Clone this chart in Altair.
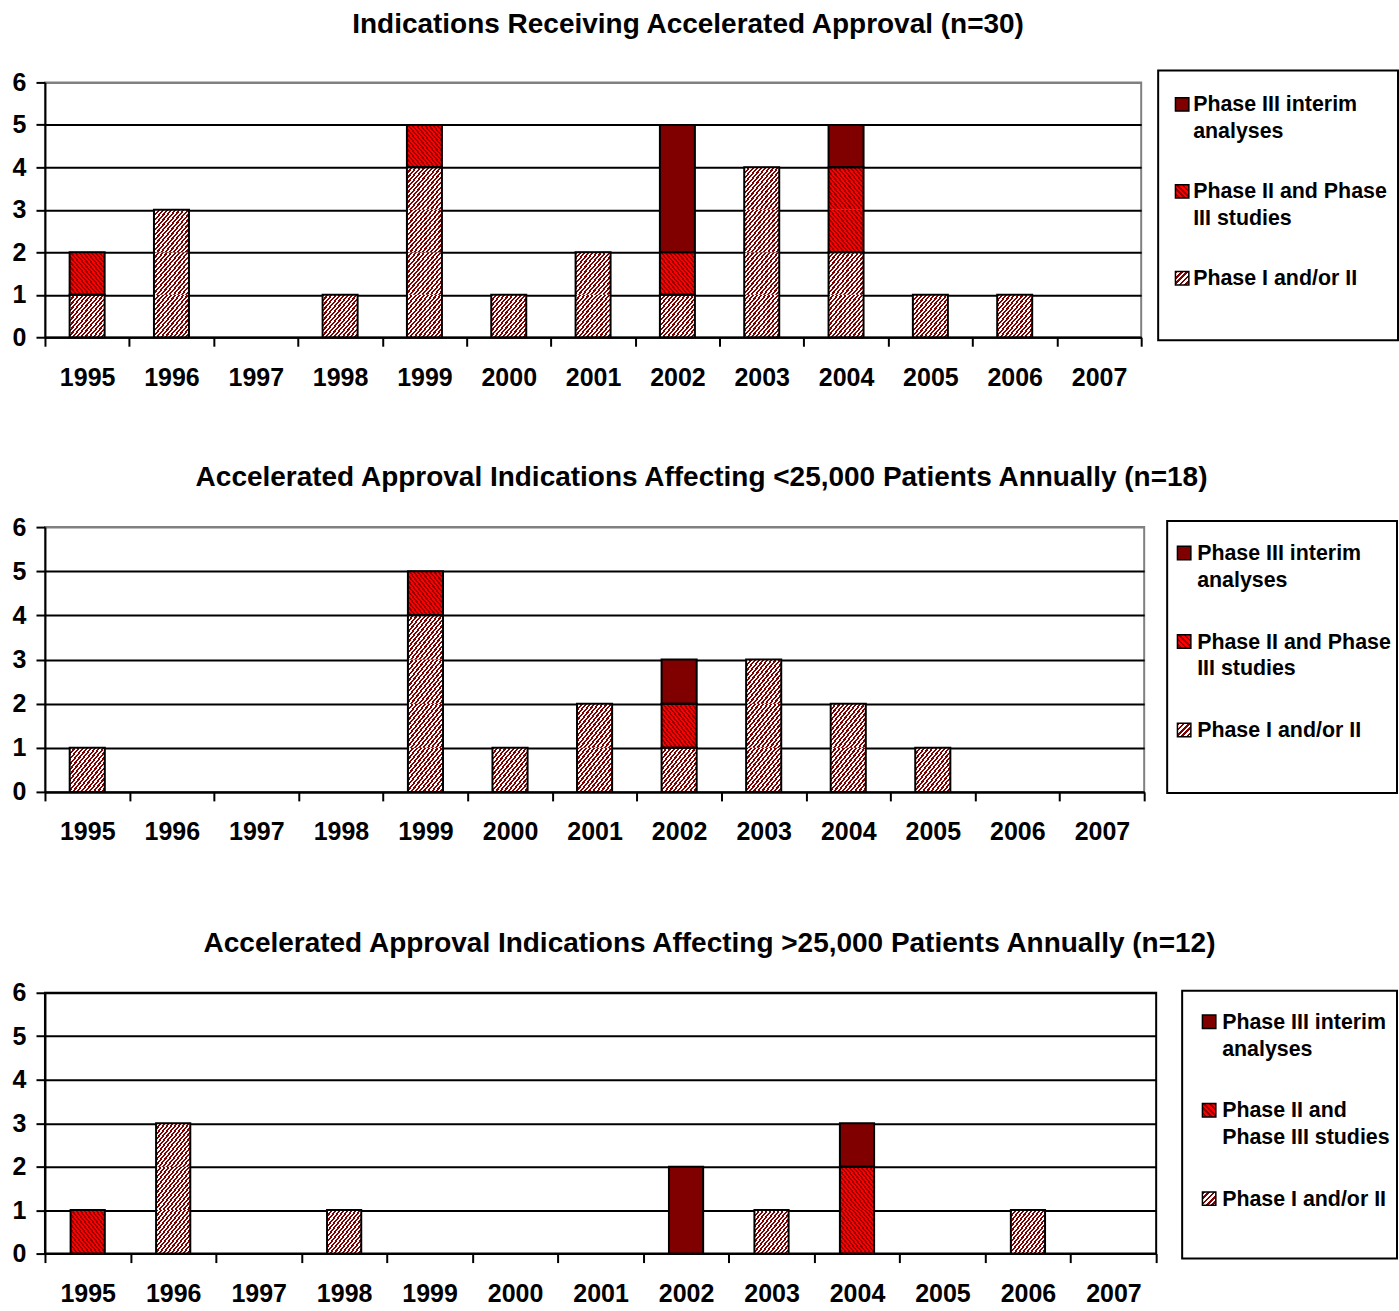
import altair as alt
import pandas as pd

FONT = "Liberation Sans, Arial, sans-serif"

YEARS = ["1995", "1996", "1997", "1998", "1999", "2000", "2001",
         "2002", "2003", "2004", "2005", "2006", "2007"]
Y_TICKS = [0, 1, 2, 3, 4, 5, 6]

TITLES = [
    "Indications Receiving Accelerated Approval (n=30)",
    "Accelerated Approval Indications Affecting <25,000 Patients Annually (n=18)",
    "Accelerated Approval Indications Affecting >25,000 Patients Annually (n=12)",
]

# Phase I and/or II, Phase II and Phase III studies, Phase III interim analyses
ALL_P1 = [1, 3, 0, 1, 4, 1, 2, 1, 4, 2, 1, 1, 0]
ALL_P2 = [1, 0, 0, 0, 1, 0, 0, 1, 0, 2, 0, 0, 0]
ALL_P3 = [0, 0, 0, 0, 0, 0, 0, 3, 0, 1, 0, 0, 0]

SMALL_P1 = [1, 0, 0, 0, 4, 1, 2, 1, 3, 2, 1, 0, 0]
SMALL_P2 = [0, 0, 0, 0, 1, 0, 0, 1, 0, 0, 0, 0, 0]
SMALL_P3 = [0, 0, 0, 0, 0, 0, 0, 1, 0, 0, 0, 0, 0]

LARGE_P1 = [0, 3, 0, 1, 0, 0, 0, 0, 1, 0, 0, 1, 0]
LARGE_P2 = [1, 0, 0, 0, 0, 0, 0, 0, 0, 2, 0, 0, 0]
LARGE_P3 = [0, 0, 0, 0, 0, 0, 0, 2, 0, 1, 0, 0, 0]

LEGEND_PHASE = ["III", "II", "I"]
LEGEND_A = ["Phase III interim\nanalyses", "Phase II and Phase\nIII studies", "Phase I and/or II"]
LEGEND_B = ["Phase III interim\nanalyses", "Phase II and\nPhase III studies", "Phase I and/or II"]

PHASE_KEYS = ["I", "II", "III"]


def stripes(c1, c2, n, direction):
    stops = []
    m = 2 * n
    for i in range(m):
        c = c1 if i % 2 == 0 else c2
        stops.append({"offset": i / m, "color": c})
        stops.append({"offset": (i + 1) / m, "color": c})
    if direction == "/":
        x1, y1, x2, y2 = 0, 0, 1, 1
    else:
        x1, y1, x2, y2 = 0, 1, 1, 0
    return {"gradient": "linear", "x1": x1, "y1": y1, "x2": x2, "y2": y2, "stops": stops}


FILL = {
    "I": stripes("#800000", "#ffffff", 17, "/"),
    "II": stripes("#ff0000", "#990000", 17, "\\"),
    "III": "#800000",
}
LEG_FILL = {
    "I": stripes("#800000", "#ffffff", 5, "/"),
    "II": stripes("#ff0000", "#990000", 5, "\\"),
    "III": "#800000",
}


def unit_rows(series):
    rows, segs = [], []
    for i, yr in enumerate(YEARS):
        base = 0
        for key, vals in zip(PHASE_KEYS, series):
            v = vals[i]
            for k in range(v):
                rows.append({"year": yr, "phase": key, "lo": base + k, "hi": base + k + 1})
            if v > 0:
                segs.append({"year": yr, "phase": key, "lo": base, "hi": base + v})
            base += v
    return pd.DataFrame(rows), pd.DataFrame(segs)


def panel(series, width, height, border, band):
    units, segs = unit_rows(series)
    if border == "black":
        gcol = "black"
    else:
        gcol = {"condition": {"test": "datum.value === 6", "value": border}, "value": "black"}
    xenc = alt.X(
        "year:N", sort=YEARS,
        scale=alt.Scale(domain=YEARS, paddingInner=0, paddingOuter=0),
        axis=alt.Axis(title=None, labelAngle=0, tickBand="extent", tickSize=9, tickWidth=2,
                      tickColor="black", domainColor="black", domainWidth=2, grid=False,
                      labelFont=FONT, labelFontSize=25, labelFontWeight="bold",
                      labelColor="black", labelPadding=19),
    )
    yenc = alt.Y(
        "lo:Q", scale=alt.Scale(domain=[0, 6], nice=False),
        axis=alt.Axis(title=None, values=Y_TICKS, tickSize=9, tickWidth=2, tickColor="black",
                      domainColor="black", domainWidth=2, grid=True, gridColor=gcol,
                      gridWidth=2, gridOpacity=1, labelFont=FONT, labelFontSize=25,
                      labelFontWeight="bold", labelColor="black", labelPadding=10),
    )
    bw = alt.RelativeBandSize(band)
    layers = []
    for key in ["I", "II"]:
        layers.append(
            alt.Chart(units).transform_filter(alt.datum.phase == key)
            .mark_bar(fill=FILL[key], width=bw)
            .encode(x=xenc, y=yenc, y2="hi:Q")
        )
    layers.append(
        alt.Chart(segs).transform_filter(alt.datum.phase == "III")
        .mark_bar(fill=FILL["III"], width=bw)
        .encode(x=xenc, y=yenc, y2="hi:Q")
    )
    layers.append(
        alt.Chart(segs).mark_bar(fillOpacity=0, stroke="black", strokeWidth=2, width=bw)
        .encode(x=xenc, y=yenc, y2="hi:Q")
    )
    return alt.layer(*layers).properties(
        width=width, height=height,
        view=alt.ViewBackground(stroke=border, strokeWidth=2),
    )


def legend(labels, width, height, c0, d, icon_x, text_x, box_top, box_bottom):
    df = pd.DataFrame({"idx": [0, 1, 2], "label": labels, "phase": LEGEND_PHASE})
    lo = -c0 / d
    hi = lo + height / d
    ysc = alt.Y("idx:Q", scale=alt.Scale(domain=[lo, hi], reverse=True), axis=None)
    box = alt.Chart(pd.DataFrame({"k": [0]})).mark_rect(
        fill="white", stroke="black", strokeWidth=2
    ).encode(x=alt.value(0), x2=alt.value(width), y=alt.value(box_top), y2=alt.value(box_bottom))
    icons = []
    for key in ["III", "II", "I"]:
        icons.append(
            alt.Chart(df).transform_filter(alt.datum.phase == key)
            .mark_square(size=180, fill=LEG_FILL[key], stroke="black", strokeWidth=1.5, opacity=1)
            .encode(x=alt.value(icon_x), y=ysc)
        )
    text = alt.Chart(df).mark_text(
        align="left", baseline="top", dy=-10, lineBreak="\n", lineHeight=27,
        font=FONT, fontSize=21.4, fontWeight="bold", color="black"
    ).encode(x=alt.value(text_x), y=ysc, text="label:N")
    return alt.layer(box, *icons, text).properties(
        width=width, height=height,
        view=alt.ViewBackground(stroke="transparent", strokeWidth=0),
    )


def title(text, offset, dx):
    return alt.TitleParams(text=text, font=FONT, fontSize=28, fontWeight="bold", color="black",
                           anchor="middle", offset=offset, dx=dx)


row1 = alt.hconcat(
    panel([ALL_P1, ALL_P2, ALL_P3], 1097, 255, "#808080", 0.415),
    legend(LEGEND_A, 240, 255, 22, 87, 24, 35, -12, 258),
    spacing=14,
).properties(title=title(TITLES[0], 30, -17))

row2 = alt.hconcat(
    panel([SMALL_P1, SMALL_P2, SMALL_P3], 1100, 265, "#808080", 0.415),
    legend(LEGEND_A, 230, 265, 26, 88.5, 17, 30, -6, 266),
    spacing=20,
).properties(title=title(TITLES[1], 22, -3))

row3 = alt.hconcat(
    panel([LARGE_P1, LARGE_P2, LARGE_P3], 1112, 261, "black", 0.40),
    legend(LEGEND_B, 215, 261, 29, 88.5, 27, 40, -2, 266),
    spacing=23,
).properties(title=title(TITLES[2], 22, 5))

chart = alt.vconcat(
    alt.vconcat(row1, row2, spacing=73),
    row3,
    spacing=84,
).properties(
    padding={"left": 11, "top": 11, "right": 0, "bottom": 0},
    background="white",
).configure_view(strokeWidth=0)

chart.save("out.html", embed_options={"renderer": "svg", "actions": False})
